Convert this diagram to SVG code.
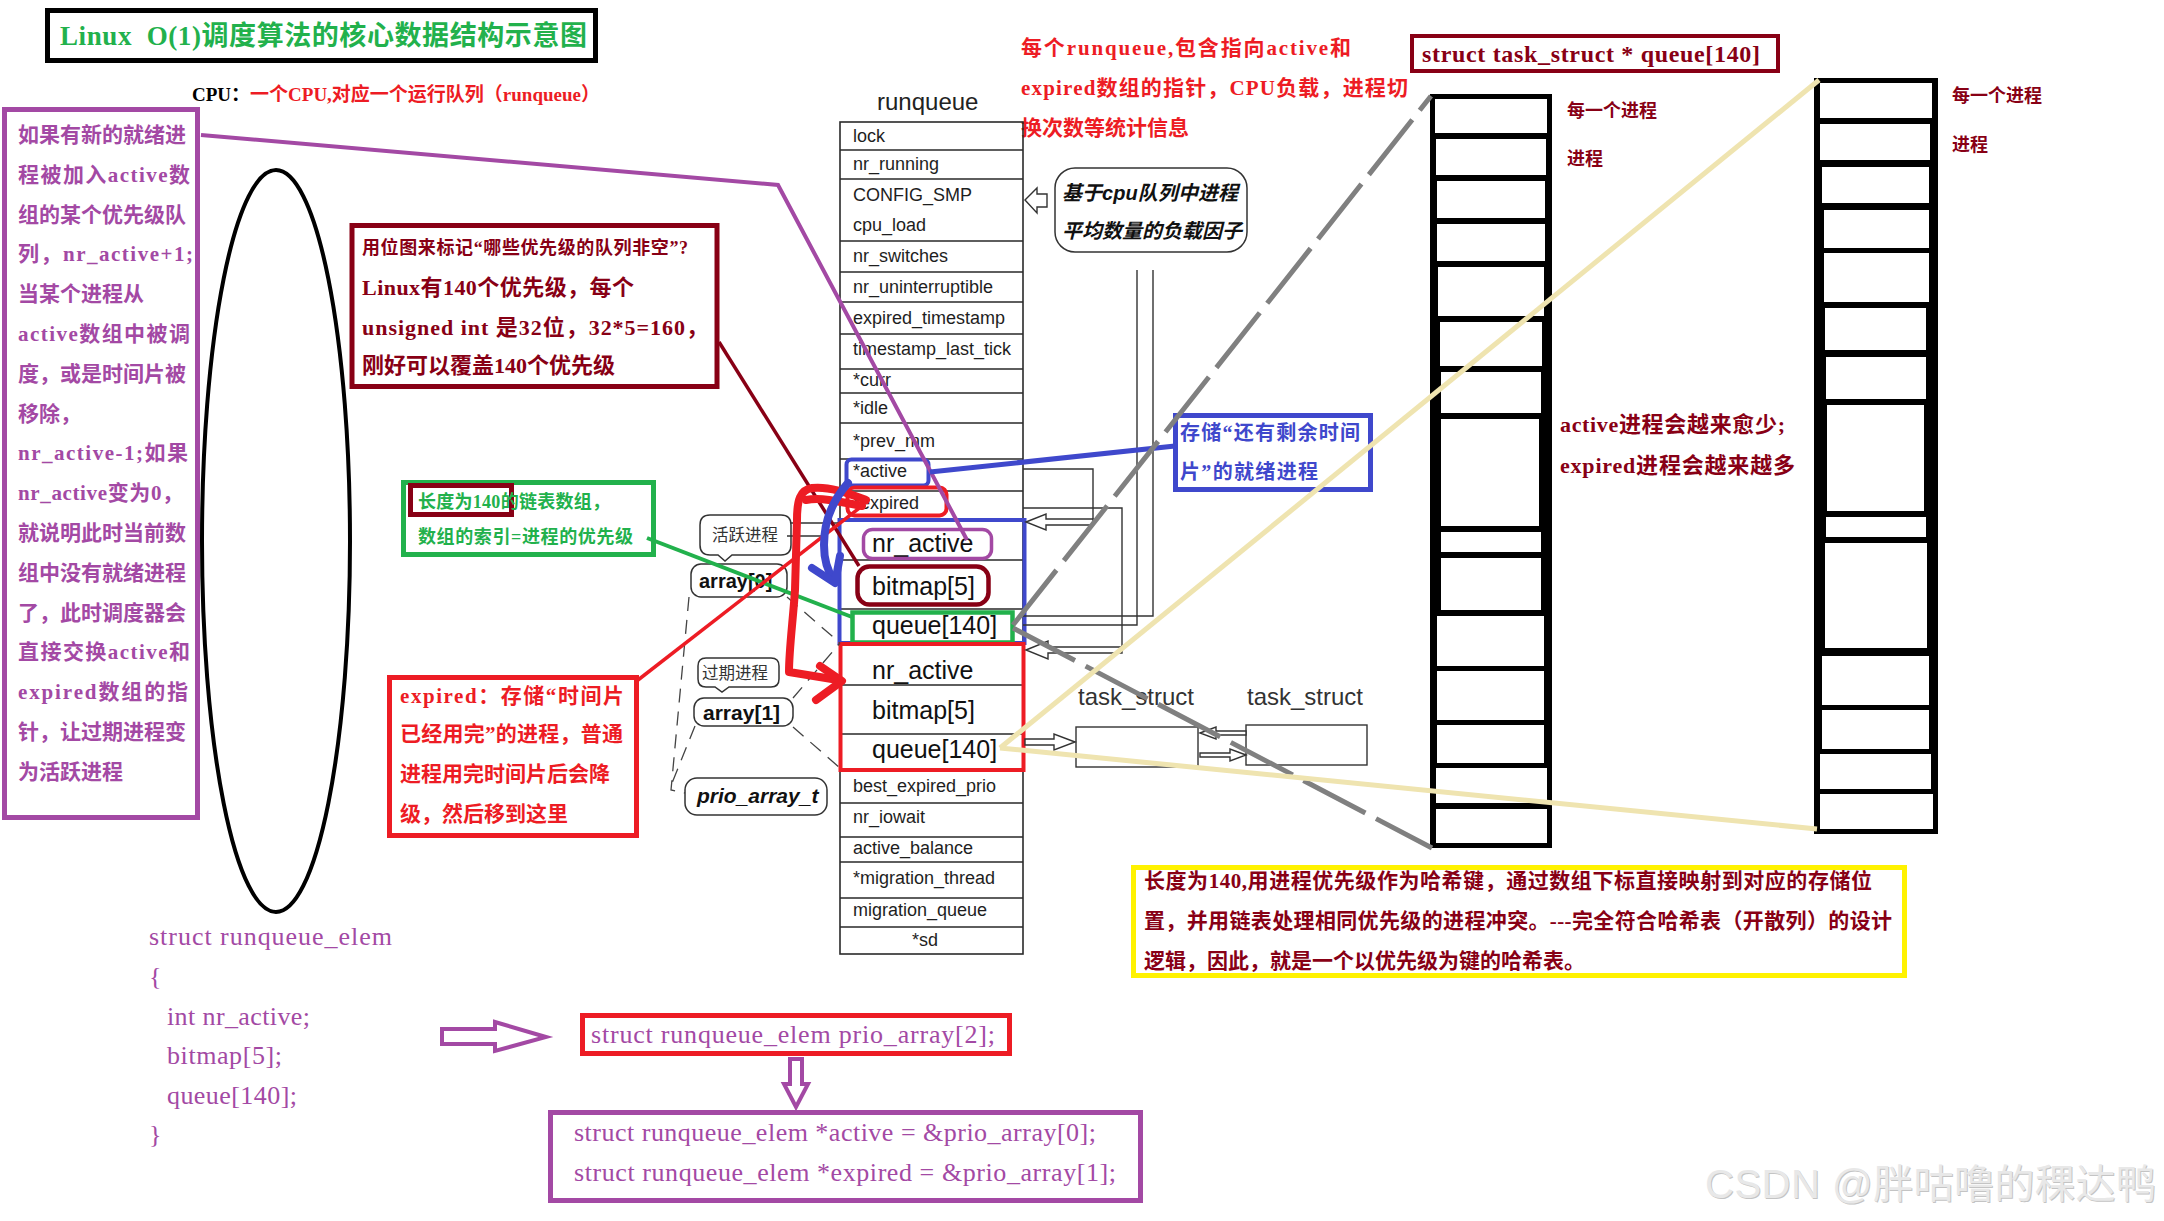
<svg xmlns="http://www.w3.org/2000/svg" width="2164" height="1221" viewBox="0 0 2164 1221">
<defs>
<style>
.cj{font-family:"Liberation Serif","Noto Sans CJK SC",serif;font-weight:bold}
.sn{font-family:"Liberation Sans","Noto Sans CJK SC",sans-serif}
.row{font-family:"Liberation Sans",sans-serif;font-size:18px;fill:#1e1e1e}
.big{font-family:"Liberation Sans",sans-serif;font-size:25px;fill:#111}
.tl{stroke:#2a2a2a;stroke-width:1.6;fill:none}
.thin{stroke:#333;stroke-width:1.4;fill:none}
.ha{stroke:#333;stroke-width:1.4;fill:#fff}
.bub{fill:#fff;stroke:#333;stroke-width:1.5}
.dash{stroke:#444;stroke-width:1.3;fill:none;stroke-dasharray:14 9}
.code{font-family:"Liberation Serif",serif;fill:#a349a4;font-size:26px}
.pu{fill:#a349a4}.dr{fill:#880015}.rd{fill:#ed1c24}.gr{fill:#22b14c}.bl{fill:#3f48cc}
.cell{fill:#fff}
</style>
</defs>
<rect width="2164" height="1221" fill="#fff"/>

<g id="title">
<rect x="47.5" y="10.5" width="548" height="50" fill="#fff" stroke="#000" stroke-width="5"/>
<text x="60" y="45" class="cj gr" font-size="27" textLength="527">Linux&#160; O(1)调度算法的核心数据结构示意图</text>
</g>

<g id="cpu-label">
<text x="192" y="101" class="cj" font-size="19"><tspan fill="#000">CPU：</tspan><tspan fill="#ed1c24">一个CPU,对应一个运行队列（runqueue）</tspan></text>
</g>

<g id="left-note">
<rect x="4.5" y="109.5" width="193" height="708" fill="#fff" stroke="#a349a4" stroke-width="5"/>
<g class="cj pu" font-size="21">
<text x="18" y="142">如果有新的就绪进</text>
<text x="18" y="181.8" textLength="172">程被加入active数</text>
<text x="18" y="221.6">组的某个优先级队</text>
<text x="18" y="261.4" textLength="175">列，nr_active+1;</text>
<text x="18" y="301.2">当某个进程从</text>
<text x="18" y="341" textLength="172">active数组中被调</text>
<text x="18" y="380.8">度，或是时间片被</text>
<text x="18" y="420.6">移除，</text>
<text x="18" y="460.4" textLength="170">nr_active-1;如果</text>
<text x="18" y="500.2" textLength="165">nr_active变为0，</text>
<text x="18" y="540">就说明此时当前数</text>
<text x="18" y="579.8">组中没有就绪进程</text>
<text x="18" y="619.6">了，此时调度器会</text>
<text x="18" y="659.4" textLength="172">直接交换active和</text>
<text x="18" y="699.2" textLength="170">expired数组的指</text>
<text x="18" y="739">针，让过期进程变</text>
<text x="18" y="778.8">为活跃进程</text>
</g>
</g>

<g id="ellipse">
<ellipse cx="276" cy="541" rx="74" ry="371" fill="none" stroke="#000" stroke-width="4"/>
</g>

<g id="bitmap-note">
<rect x="352" y="225.5" width="365" height="161" fill="#fff" stroke="#880015" stroke-width="5"/>
<g class="cj dr">
<text x="362" y="254" font-size="18" textLength="326">用位图来标记“哪些优先级的队列非空”?</text>
<text x="362" y="295" font-size="22" textLength="272">Linux有140个优先级，每个</text>
<text x="362" y="335" font-size="22" textLength="346">unsigned int 是32位，32*5=160，</text>
<text x="362" y="373" font-size="22">刚好可以覆盖140个优先级</text>
</g>
</g>

<g id="queue-note">
<rect x="403.5" y="482.5" width="250" height="72" fill="#fff" stroke="#22b14c" stroke-width="5"/>
<rect x="410.5" y="485.5" width="101" height="29" fill="none" stroke="#880015" stroke-width="5"/>
<g class="cj gr" font-size="18">
<text x="418" y="508" textLength="192">长度为140的链表数组，</text>
<text x="418" y="543" textLength="215">数组的索引=进程的优先级</text>
</g>
</g>

<g id="expired-note">
<rect x="389.5" y="677.5" width="247" height="158" fill="#fff" stroke="#ed1c24" stroke-width="5"/>
<g class="cj rd" font-size="21">
<text x="400" y="703" textLength="224">expired：存储“时间片</text>
<text x="400" y="741" textLength="223">已经用完”的进程，普通</text>
<text x="400" y="781">进程用完时间片后会降</text>
<text x="400" y="821">级，然后移到这里</text>
</g>
</g>

<g id="runqueue-note">
<g class="cj rd" font-size="21">
<text x="1021" y="55" textLength="330">每个runqueue,包含指向active和</text>
<text x="1021" y="95" textLength="387">expired数组的指针，CPU负载，进程切</text>
<text x="1021" y="135">换次数等统计信息</text>
</g>
</g>

<g id="runqueue">
<text x="877" y="110" class="sn" font-size="24" fill="#222">runqueue</text>
<rect x="840" y="122" width="183" height="832" fill="#fff" class="tl"/>
<path class="tl" d="M840,150H1023M840,179H1023M840,241H1023M840,272H1023M840,302H1023M840,334H1023M840,369H1023M840,393H1023M840,423H1023M840,459H1023M840,491H1023M840,520H1023M840,560H1023M840,609H1023M840,643H1023M840,685H1023M840,734H1023M840,770H1023M840,803H1023M840,837H1023M840,862H1023M840,898H1023M840,927H1023"/>
<g class="row">
<text x="853" y="142">lock</text>
<text x="853" y="170">nr_running</text>
<text x="853" y="201">CONFIG_SMP</text>
<text x="853" y="231">cpu_load</text>
<text x="853" y="262">nr_switches</text>
<text x="853" y="293">nr_uninterruptible</text>
<text x="853" y="324">expired_timestamp</text>
<text x="853" y="355">timestamp_last_tick</text>
<text x="853" y="386">*curr</text>
<text x="853" y="414">*idle</text>
<text x="853" y="447">*prev_mm</text>
<text x="853" y="477">*active</text>
<text x="853" y="509">*expired</text>
<text x="853" y="792">best_expired_prio</text>
<text x="853" y="823">nr_iowait</text>
<text x="853" y="854">active_balance</text>
<text x="853" y="884">*migration_thread</text>
<text x="853" y="916">migration_queue</text>
<text x="912" y="946">*sd</text>
</g>
<g class="big">
<text x="872" y="552">nr_active</text>
<text x="872" y="595">bitmap[5]</text>
<text x="872" y="634">queue[140]</text>
<text x="872" y="679">nr_active</text>
<text x="872" y="719">bitmap[5]</text>
<text x="872" y="758">queue[140]</text>
</g>
</g>

<g id="active-array">
<rect x="839.5" y="520" width="185" height="123" fill="none" stroke="#3f48cc" stroke-width="4"/>
<rect x="863.5" y="529.5" width="128" height="29" rx="9" fill="none" stroke="#a349a4" stroke-width="3.5"/>
<rect x="857.5" y="566.5" width="131" height="38" rx="12" fill="none" stroke="#880015" stroke-width="4.5"/>
<rect x="852.5" y="612.5" width="160" height="30" fill="none" stroke="#22b14c" stroke-width="4.5"/>
</g>
<g id="expired-array">
<rect x="840.5" y="644" width="183" height="126" fill="none" stroke="#ed1c24" stroke-width="4"/>
</g>
<g id="active-ptr">
<rect x="846.5" y="459.5" width="82" height="26" rx="5" fill="none" stroke="#3f48cc" stroke-width="4"/>
</g>
<g id="expired-ptr">
<rect x="847.5" y="487.5" width="99" height="28" rx="7" fill="none" stroke="#ed1c24" stroke-width="4"/>
</g>

<g id="load-bubble">
<rect x="1055" y="168" width="192" height="84" rx="20" class="bub"/>
<g class="sn" font-size="20" font-weight="bold" font-style="italic" fill="#111">
<text x="1062" y="200" textLength="176">基于cpu队列中进程</text>
<text x="1062" y="238">平均数量的负载因子</text>
</g>
</g>

<g id="label-active">
<path class="bub" d="M710,515H781Q791,515 791,525V545Q791,555 781,555H732L725,561L718,555H710Q700,555 700,545V525Q700,515 710,515Z"/>
<text x="712" y="541" class="sn" font-size="16.5" fill="#333">活跃进程</text>
</g>
<g id="label-array0">
<rect x="691" y="564" width="96" height="33" rx="10" class="bub"/>
<text x="699" y="588" class="sn" font-size="20" font-weight="bold" fill="#111">array[0]</text>
</g>
<g id="label-expired">
<path class="bub" d="M706,658H771Q779,658 779,666V679Q779,687 771,687H729L722,692L715,687H706Q698,687 698,679V666Q698,658 706,658Z"/>
<text x="702" y="679" class="sn" font-size="16.5" fill="#333">过期进程</text>
</g>
<g id="label-array1">
<rect x="694" y="698" width="99" height="28" rx="10" class="bub"/>
<text x="703" y="720" class="sn" font-size="21" font-weight="bold" fill="#111">array[1]</text>
</g>
<g id="label-prio">
<rect x="685" y="778" width="142" height="37" rx="12" class="bub"/>
<text x="697" y="803" class="sn" font-size="21" font-weight="bold" font-style="italic" fill="#111">prio_array_t</text>
</g>

<g id="task1">
<text x="1078" y="705" class="sn" font-size="24" fill="#333">task_struct</text>
<rect x="1076" y="727" width="122" height="40" class="ha"/>
</g>
<g id="task2">
<text x="1247" y="705" class="sn" font-size="24" fill="#333">task_struct</text>
<rect x="1246" y="725" width="121" height="40" class="ha"/>
</g>

<g id="queue-label">
<rect x="1412" y="36" width="366" height="35" fill="#fff" stroke="#880015" stroke-width="4"/>
<text x="1422" y="62" class="cj dr" font-size="24" textLength="338">struct task_struct * queue[140]</text>
</g>

<g id="queue-col1">
<rect x="1430" y="94" width="122" height="754" fill="#000"/>
<rect class="cell" x="1435" y="99" width="112" height="34"/>
<rect class="cell" x="1436" y="139" width="110" height="36"/>
<rect class="cell" x="1437" y="181" width="108" height="37"/>
<rect class="cell" x="1437" y="224" width="108" height="37"/>
<rect class="cell" x="1438" y="267" width="106" height="49"/>
<rect class="cell" x="1440" y="322" width="102" height="44"/>
<rect class="cell" x="1441" y="372" width="100" height="41"/>
<rect class="cell" x="1441" y="419" width="98" height="107"/>
<rect class="cell" x="1441" y="532" width="100" height="20"/>
<rect class="cell" x="1441" y="558" width="100" height="52"/>
<rect class="cell" x="1437" y="616" width="107" height="50"/>
<rect class="cell" x="1437" y="671" width="107" height="49"/>
<rect class="cell" x="1437" y="725" width="107" height="38"/>
<rect class="cell" x="1436" y="768" width="111" height="35"/>
<rect class="cell" x="1436" y="809" width="111" height="34"/>
</g>
<g id="queue-col2">
<rect x="1814" y="78" width="124" height="756" fill="#000"/>
<rect class="cell" x="1820" y="83" width="112" height="35"/>
<rect class="cell" x="1820" y="124" width="110" height="36"/>
<rect class="cell" x="1822" y="167" width="107" height="36"/>
<rect class="cell" x="1824" y="210" width="105" height="38"/>
<rect class="cell" x="1824" y="253" width="105" height="49"/>
<rect class="cell" x="1825" y="308" width="101" height="42"/>
<rect class="cell" x="1826" y="357" width="100" height="42"/>
<rect class="cell" x="1827" y="405" width="97" height="106"/>
<rect class="cell" x="1826" y="517" width="100" height="20"/>
<rect class="cell" x="1825" y="543" width="102" height="105"/>
<rect class="cell" x="1822" y="656" width="107" height="49"/>
<rect class="cell" x="1822" y="710" width="107" height="39"/>
<rect class="cell" x="1820" y="754" width="111" height="35"/>
<rect class="cell" x="1820" y="794" width="113" height="35"/>
</g>

<g id="col-notes" class="cj dr">
<text x="1567" y="117" font-size="18">每一个进程</text>
<text x="1567" y="165" font-size="18">进程</text>
<text x="1952" y="102" font-size="18">每一个进程</text>
<text x="1952" y="151" font-size="18">进程</text>
<text x="1560" y="432" font-size="22" textLength="225">active进程会越来愈少;</text>
<text x="1560" y="473" font-size="22" textLength="235">expired进程会越来越多</text>
</g>

<g id="remaining-note">
<rect x="1175.5" y="415.5" width="195" height="74" fill="#fff" stroke="#3f48cc" stroke-width="5"/>
<g class="cj bl" font-size="20">
<text x="1180" y="440" textLength="180">存储“还有剩余时间</text>
<text x="1180" y="479" textLength="138">片”的就绪进程</text>
</g>
</g>

<g id="hash-note">
<rect x="1133.5" y="867.5" width="771" height="108" fill="#fff" stroke="#fff200" stroke-width="5"/>
<g class="cj dr" font-size="21">
<text x="1144" y="888" textLength="728">长度为140,用进程优先级作为哈希键，通过数组下标直接映射到对应的存储位</text>
<text x="1144" y="928" textLength="748">置，并用链表处理相同优先级的进程冲突。---完全符合哈希表（开散列）的设计</text>
<text x="1144" y="968">逻辑，因此，就是一个以优先级为键的哈希表。</text>
</g>
</g>

<g id="code-elem">
<text class="code" x="149" y="945" textLength="243">struct runqueue_elem</text>
<text class="code" x="149" y="985">{</text>
<text class="code" x="167" y="1025" textLength="143">int nr_active;</text>
<text class="code" x="167" y="1064" textLength="115">bitmap[5];</text>
<text class="code" x="167" y="1104" textLength="130">queue[140];</text>
<text class="code" x="149" y="1143">}</text>
</g>
<g id="code-prio">
<rect x="582.5" y="1015.5" width="427" height="38" fill="#fff" stroke="#ed1c24" stroke-width="5"/>
<text class="code" x="591" y="1043" textLength="404">struct runqueue_elem prio_array[2];</text>
</g>
<g id="code-ptrs">
<rect x="550.5" y="1112.5" width="590" height="88" fill="#fff" stroke="#a349a4" stroke-width="5"/>
<text class="code" x="574" y="1141" textLength="522">struct runqueue_elem *active = &amp;prio_array[0];</text>
<text class="code" x="574" y="1181" textLength="542">struct runqueue_elem *expired = &amp;prio_array[1];</text>
</g>

<g id="connectors">
<polygon points="442,1029 495,1029 495,1022 546,1037 495,1051 495,1044 442,1044" fill="#fff" stroke="#a349a4" stroke-width="4" stroke-linejoin="miter"/>
<polygon points="790,1059 802,1059 802,1084 808,1084 796,1107 784,1084 790,1084" fill="#fff" stroke="#a349a4" stroke-width="4"/>

<polyline class="thin" points="1023,469 1093,469 1093,522"/>
<polygon class="ha" points="1026,522 1046,514 1046,519 1093,519 1093,525 1046,525 1046,530"/>
<polyline class="thin" points="1023,508 1122,508 1122,650"/>
<polygon class="ha" points="1026,650 1048,641 1048,647 1122,647 1122,653 1048,653 1048,659"/>
<polyline class="thin" points="1023,616 1153,616 1153,270"/>
<polyline class="thin" points="1023,625 1137,625 1137,270"/>
<polygon class="ha" points="1075,742 1054,734 1054,739 1025,739 1025,745 1054,745 1054,750"/>
<polygon class="ha" points="1200,733 1216,727 1216,731 1246,731 1246,735 1216,735 1216,739"/>
<polygon class="ha" points="1246,755 1230,749 1230,753 1200,753 1200,757 1230,757 1230,761"/>
<polygon class="ha" points="1025,200 1037,188 1037,194 1047,194 1047,207 1037,207 1037,213"/>

<path class="dash" d="M689,597L671,790L685,793M695,726L672,783M787,597L840,643M793,698L840,643M793,727L840,768"/>
<path class="thin" d="M791,523H840M787,536H822"/>

<polyline points="201,135 778,185 967,540" fill="none" stroke="#a349a4" stroke-width="4"/>
<line x1="719" y1="342" x2="859" y2="566" stroke="#880015" stroke-width="3.5"/>
<line x1="647" y1="538" x2="852" y2="617" stroke="#22b14c" stroke-width="4"/>
<line x1="638" y1="680" x2="862" y2="506" stroke="#ed1c24" stroke-width="3.5"/>
<line x1="930" y1="472" x2="1175" y2="446" stroke="#3f48cc" stroke-width="5"/>
<line x1="1013" y1="625" x2="1431" y2="96" stroke="#808080" stroke-width="5" stroke-dasharray="70 12"/>
<line x1="1013" y1="628" x2="1432" y2="848" stroke="#808080" stroke-width="5" stroke-dasharray="70 12"/>
<line x1="1000" y1="748" x2="1819" y2="80" stroke="#efe4b0" stroke-width="5"/>
<line x1="1000" y1="748" x2="1817" y2="829" stroke="#efe4b0" stroke-width="5"/>

<g fill="none" stroke="#ed1c24" stroke-width="8" stroke-linecap="round" stroke-linejoin="round">
<path d="M866,500C850,494 830,486 812,488C800,490 797,500 797,520L795,590C793,620 789,650 789,672L838,680"/>
<path d="M806,500C822,497 842,502 862,506"/>
<path d="M820,666L842,681L816,700"/>
</g>
<g fill="none" stroke="#3f48cc" stroke-width="8" stroke-linecap="round" stroke-linejoin="round">
<path d="M848,483C833,500 824,520 824,545C824,560 828,572 834,580"/>
<path d="M812,568L835,583L840,556"/>
</g>
</g>

<g id="watermark" font-family="Liberation Sans,Noto Sans CJK SC,sans-serif" font-size="40">
<text x="1706" y="1199" fill="#c4c4c4" textLength="451">CSDN @胖咕噜的稞达鸭</text>
<text x="1705" y="1198" fill="#e8e8e8" textLength="451">CSDN @胖咕噜的稞达鸭</text>
</g>
</svg>
